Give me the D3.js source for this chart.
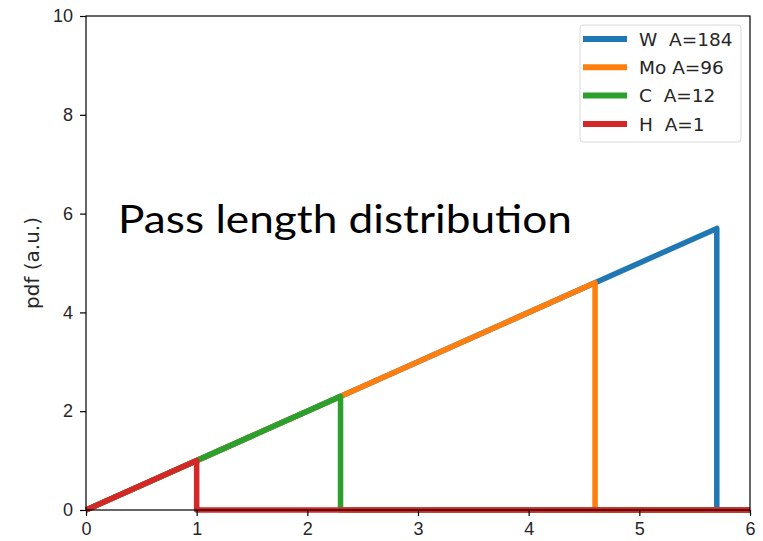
<!DOCTYPE html>
<html>
<head>
    <style>
        body {
            margin: 0;
            background-color: #ffffff;
            font-family: "DejaVu Sans", sans-serif;
        }
        .tick text {
            font-size: 18px;
            fill: #262626;
        }
        .line {
            fill: none;
            stroke-width: 5.5px;
            stroke-linejoin: round;
        }
    </style>
</head>
<body>
    <div id="chart"></div>

    <script src="https://d3js.org/d3.v7.min.js"></script>
    <script>
        // data
        var elements = ["W", "Mo", "C", "H"];
        var masses = [184, 96, 12, 1];
        var cutoffs = [5.7, 4.6, 2.3, 1.0];   // max pass length (also peak pdf)
        var colors = ["#1f77b4", "#ff7f0e", "#2ca02c", "#d62728"];
        var xTicks = [0, 1, 2, 3, 4, 5, 6];
        var yTicks = [0, 2, 4, 6, 8, 10];
        var legendLabels = ["W  A=184", "Mo A=96", "C  A=12", "H  A=1"];

        var width = 763, height = 541;
        var margin = {top: 16, right: 13, bottom: 31, left: 86};

        var svg = d3.select("#chart").append("svg")
            .attr("width", width)
            .attr("height", height);

        var x = d3.scaleLinear().domain([0, 6]).range([margin.left, width - margin.right]);
        var y = d3.scaleLinear().domain([0, 10]).range([height - margin.bottom, margin.top]);

        var line = d3.line()
            .x(function(d) { return x(d[0]); })
            .y(function(d) { return y(d[1]); });

        // ramp up to cutoff, drop to zero, flat to the end
        elements.forEach(function(el, i) {
            var c = cutoffs[i];
            var pts = [[0, 0], [c, c], [c, 0], [6, 0]];
            svg.append("path")
                .attr("class", "line")
                .attr("d", line(pts))
                .attr("stroke", colors[i]);
        });

        // axes
        svg.append("g")
            .attr("transform", "translate(0," + (height - margin.bottom) + ")")
            .call(d3.axisBottom(x).tickValues(xTicks).tickSize(6).tickPadding(6).tickFormat(d3.format("d")))
            .call(function(g) { g.select(".domain").remove(); });

        svg.append("g")
            .attr("transform", "translate(" + margin.left + ",0)")
            .call(d3.axisLeft(y).tickValues(yTicks).tickSize(6).tickPadding(7).tickFormat(d3.format("d")))
            .call(function(g) { g.select(".domain").remove(); });

        svg.selectAll(".tick line").attr("stroke", "#000").attr("stroke-width", 1.2);

        // frame
        svg.append("rect")
            .attr("x", margin.left)
            .attr("y", margin.top)
            .attr("width", width - margin.left - margin.right)
            .attr("height", height - margin.top - margin.bottom)
            .attr("fill", "none")
            .attr("stroke", "#000")
            .attr("stroke-width", 1.2);

        // y label
        svg.append("text")
            .attr("transform", "translate(39," + (margin.top + (height - margin.top - margin.bottom) / 2) + ") rotate(-90)")
            .attr("text-anchor", "middle")
            .style("font-size", "20px")
            .style("fill", "#262626")
            .text("pdf (a.u.)");

        // big annotation
        svg.append("text")
            .attr("x", 118)
            .attr("y", 233)
            .attr("textLength", 454)
            .attr("lengthAdjust", "spacingAndGlyphs")
            .style("font-family", "Lato, 'Open Sans', sans-serif")
            .style("font-size", "39px")
            .style("fill", "#000")
            .text("Pass length distribution");

        // legend
        var lg = svg.append("g").attr("transform", "translate(580,25)");
        lg.append("rect")
            .attr("width", 161)
            .attr("height", 117)
            .attr("rx", 3)
            .attr("fill", "#fff")
            .attr("fill-opacity", 0.8)
            .attr("stroke", "#d9d9d9");

        legendLabels.forEach(function(lab, i) {
            var cy = 14 + i * 28.3;
            lg.append("line")
                .attr("x1", 3).attr("x2", 47)
                .attr("y1", cy).attr("y2", cy)
                .attr("stroke", colors[i])
                .attr("stroke-width", 6);
            lg.append("text")
                .attr("x", 59)
                .attr("y", cy)
                .attr("dy", "0.36em")
                .style("font-size", "18.5px")
                .style("fill", "#262626")
                .style("white-space", "pre")
                .attr("xml:space", "preserve")
                .text(lab);
        });
    </script>
</body>
</html>
